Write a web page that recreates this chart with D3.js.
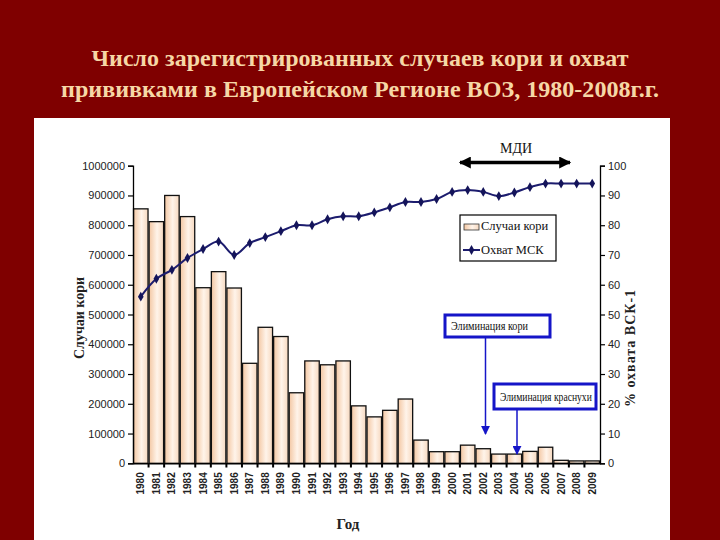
<!DOCTYPE html>
<html><head><meta charset="utf-8">
<script src="https://cdn.jsdelivr.net/npm/d3@7"></script>
<style>html,body{margin:0;padding:0;background:#7f0000;}svg{display:block;}</style>
</head><body>
<script>
const years = d3.range(1980, 2010).map(String);
const cases = [855000, 812000, 900000, 829000, 590000, 644000, 589000, 336000, 457000, 426000,
  237000, 344000, 331000, 344000, 193000, 156000, 178000, 216000, 78000, 39000,
  39000, 61000, 49000, 31000, 31000, 40000, 54000, 10000, 8000, 8000];
const coverage = [56, 62, 65, 69, 72, 74.5, 70, 74, 76, 78,
  80, 80, 82, 83, 83, 84.3, 86, 87.8, 87.8, 88.8,
  91.2, 91.8, 91.2, 89.8, 91, 92.8, 94, 94, 94, 94];
const leftTicks = d3.range(0, 1000001, 100000);
const rightTicks = d3.range(0, 101, 10);
const titleLines = ["Число зарегистрированных случаев кори и охват", "прививками в Европейском Регионе ВОЗ, 1980-2008г.г."];
const legendLabels = ["Случаи кори", "Охват МСК"];

const W = 720, H = 540;
const svg = d3.select("body").append("svg").attr("width", W).attr("height", H);
svg.append("rect").attr("width", W).attr("height", H).attr("fill", "#7f0000");

const defs = svg.append("defs");
const grad = defs.append("linearGradient").attr("id", "barg").attr("x1", "0").attr("x2", "1").attr("y1", "0").attr("y2", "0");
grad.append("stop").attr("offset", "0").attr("stop-color", "#f3c7a3");
grad.append("stop").attr("offset", "0.55").attr("stop-color", "#fff4ea");
grad.append("stop").attr("offset", "1").attr("stop-color", "#f6d8bf");
function mk(id, color, w, h) {
  defs.append("marker").attr("id", id).attr("viewBox", "0 0 10 10").attr("refX", 9).attr("refY", 5)
    .attr("markerWidth", w).attr("markerHeight", h).attr("markerUnits", "userSpaceOnUse").attr("orient", "auto-start-reverse")
    .append("path").attr("d", "M0,0 L10,5 L0,10 z").attr("fill", color);
}
mk("arrBlack", "#000", 14, 12);
mk("arrBlue", "#1515c8", 9, 9);

// titles
const titleWidths = [537, 598];
svg.selectAll("text.title").data(titleLines).join("text").attr("class", "title")
  .attr("x", 360).attr("y", (d, i) => 66 + i * 31).attr("text-anchor", "middle")
  .attr("font-family", "Liberation Serif, Times New Roman, serif").attr("font-weight", "bold")
  .attr("font-size", 23.5).attr("fill", "#f6d7a6")
  .attr("textLength", (d, i) => titleWidths[i]).attr("lengthAdjust", "spacingAndGlyphs")
  .text(d => d);

// white panel
svg.append("rect").attr("x", 34).attr("y", 118).attr("width", 636).attr("height", 422).attr("fill", "#fff");

const x = d3.scaleBand().domain(years).range([133, 600]).paddingInner(0.07).paddingOuter(0.035);
const yL = d3.scaleLinear().domain([0, 1000000]).range([463.3, 165.7]);
const yR = d3.scaleLinear().domain([0, 100]).range([463.3, 165.7]);

// bars
svg.append("g").selectAll("rect").data(years).join("rect")
  .attr("x", d => x(d)).attr("width", x.bandwidth())
  .attr("y", (d, i) => yL(cases[i])).attr("height", (d, i) => yL(0) - yL(cases[i]))
  .attr("fill", "url(#barg)").attr("stroke", "#111").attr("stroke-width", 1.3);

const tickFont = "Liberation Sans Narrow, Arial Narrow, Liberation Sans, Arial, sans-serif";
// left axis
const gL = svg.append("g").attr("transform", "translate(133,0)")
  .call(d3.axisLeft(yL).tickValues(leftTicks).tickFormat(d3.format("d")).tickSize(5).tickPadding(3));
gL.select(".domain").attr("stroke", "#000").attr("stroke-width", 1.3);
gL.selectAll(".tick line").attr("stroke", "#000").attr("stroke-width", 1.2);
gL.selectAll("text").attr("font-family", tickFont).attr("font-size", 11).attr("fill", "#222");

// right axis
const gR = svg.append("g").attr("transform", "translate(600,0)")
  .call(d3.axisRight(yR).tickValues(rightTicks).tickSize(5).tickPadding(3));
gR.select(".domain").attr("stroke", "#000").attr("stroke-width", 1.3);
gR.selectAll(".tick line").attr("stroke", "#000").attr("stroke-width", 1.2);
gR.selectAll("text").attr("font-family", tickFont).attr("font-size", 11).attr("fill", "#222");

// bottom axis
const gB = svg.append("g").attr("transform", "translate(0,463.3)")
  .call(d3.axisBottom(x).tickSize(0).tickPadding(0));
gB.select(".domain").attr("stroke", "#000").attr("stroke-width", 1.5);
gB.selectAll(".tick text").attr("transform", "translate(0,9) rotate(-90)").attr("text-anchor", "end")
  .attr("dx", 0).attr("dy", "0.35em").attr("y", 0)
  .attr("font-family", "Liberation Sans, Arial, sans-serif").attr("font-weight", "bold").attr("font-size", 10).attr("fill", "#222");
// boundary ticks
const step = x.step();
svg.append("g").selectAll("line").data(years.slice(1)).join("line")
  .attr("x1", d => x(d) - step * x.paddingInner() / 2).attr("x2", d => x(d) - step * x.paddingInner() / 2)
  .attr("y1", 463.3).attr("y2", 467.5).attr("stroke", "#000").attr("stroke-width", 2);

// coverage line
const line = d3.line().x((d, i) => x(years[i]) + x.bandwidth() / 2).y(d => yR(d)).curve(d3.curveCatmullRom.alpha(0.5));
svg.append("path").datum(coverage).attr("d", line).attr("fill", "none").attr("stroke", "#1c1c6e").attr("stroke-width", 2);
const diamond = d3.symbol().type(d3.symbolDiamond).size(28);
svg.append("g").selectAll("path").data(coverage).join("path")
  .attr("transform", (d, i) => `translate(${x(years[i]) + x.bandwidth() / 2},${yR(d)})`)
  .attr("d", diamond).attr("fill", "#14145a");

// axis titles
svg.append("text").attr("transform", "translate(84,318) rotate(-90)").attr("text-anchor", "middle")
  .attr("font-family", "Liberation Serif, Times New Roman, serif").attr("font-weight", "bold").attr("font-size", 14)
  .attr("fill", "#222").text("Случаи кори");
svg.append("text").attr("transform", "translate(635,348) rotate(-90)").attr("text-anchor", "middle")
  .attr("font-family", "Liberation Serif, Times New Roman, serif").attr("font-weight", "bold").attr("font-size", 14)
  .attr("letter-spacing", 1).attr("fill", "#222").text("% охвата ВСК-1");
svg.append("text").attr("x", 348).attr("y", 529).attr("text-anchor", "middle")
  .attr("font-family", "Liberation Serif, Times New Roman, serif").attr("font-weight", "bold").attr("font-size", 15)
  .attr("fill", "#222").text("Год");

// legend
const lg = svg.append("g").attr("transform", "translate(460,215)");
lg.append("rect").attr("width", 96).attr("height", 46).attr("fill", "#fff").attr("stroke", "#000").attr("stroke-width", 1.2);
lg.append("rect").attr("x", 4).attr("y", 9).attr("width", 15).attr("height", 6).attr("fill", "url(#barg)").attr("stroke", "#333").attr("stroke-width", 0.8);
lg.append("line").attr("x1", 3).attr("x2", 20).attr("y1", 35).attr("y2", 35).attr("stroke", "#1c1c6e").attr("stroke-width", 2);
lg.append("path").attr("transform", "translate(11.5,35)").attr("d", diamond).attr("fill", "#14145a");
lg.selectAll("text").data(legendLabels).join("text").attr("x", 21).attr("y", (d, i) => 15 + i * 24)
  .attr("font-family", "Liberation Serif, Times New Roman, serif").attr("font-size", 12.5).attr("fill", "#111").text(d => d);

// MDI arrow
svg.append("line").attr("x1", 460).attr("x2", 570).attr("y1", 162.5).attr("y2", 162.5)
  .attr("stroke", "#000").attr("stroke-width", 3.5).attr("marker-start", "url(#arrBlack)").attr("marker-end", "url(#arrBlack)");
svg.append("text").attr("x", 516).attr("y", 153).attr("text-anchor", "middle")
  .attr("font-family", "Liberation Serif, Times New Roman, serif").attr("font-size", 14).attr("fill", "#111").text("МДИ");

// annotation boxes
function note(bx, by, bw, bh, label, tw, ax, ay2) {
  svg.append("line").attr("x1", ax).attr("x2", ax).attr("y1", by + bh).attr("y2", ay2)
    .attr("stroke", "#1515c8").attr("stroke-width", 1.5).attr("marker-end", "url(#arrBlue)");
  svg.append("rect").attr("x", bx).attr("y", by).attr("width", bw).attr("height", bh)
    .attr("fill", "#fff").attr("stroke", "#1515c8").attr("stroke-width", 3);
  const t = svg.append("text").attr("x", 0).attr("y", 0)
    .attr("font-family", "Liberation Serif, Times New Roman, serif").attr("font-size", 12).attr("fill", "#111")
    .text(label);
  const natural = t.node().getComputedTextLength() || tw;
  t.attr("transform", `translate(${bx + 6},${by + bh / 2 + 4}) scale(${tw / natural},1)`);
}
note(445, 315, 105, 22, "Элиминация кори", 77, 485.5, 434);
note(494, 384, 102, 25, "Элиминация краснухи", 92, 517, 454);
</script>
</body></html>
